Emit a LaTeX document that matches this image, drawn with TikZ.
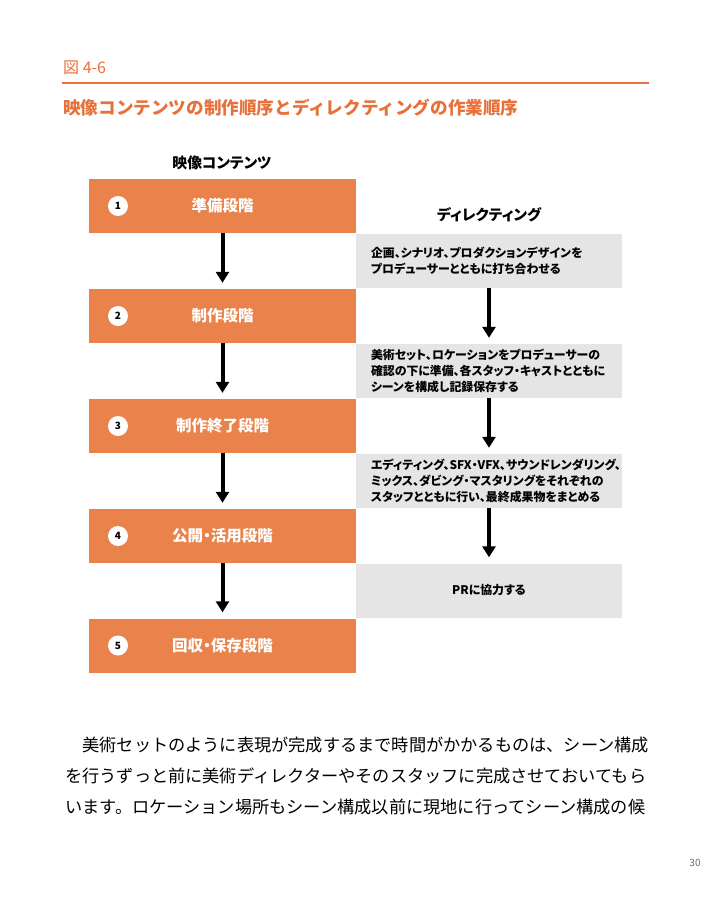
\documentclass[tikz,border=0pt]{standalone}
\usepackage{fontspec}
\setmainfont{Noto Sans CJK JP}
\newfontfamily\jp[RawFeature=+palt]{Noto Sans CJK JP}
\usetikzlibrary{arrows.meta}
\tikzset{>={Triangle[width=13pt,length=11pt]}}
\definecolor{figorange}{HTML}{E9834B}
\definecolor{headorange}{HTML}{E8713A}
\definecolor{taskgray}{HTML}{E5E5E5}

\begin{document}
\begin{tikzpicture}[x=1pt,y=-1pt]
  \tikzstyle{stage} = [fill=figorange, text=white, minimum width=267pt, minimum height=54pt, inner sep=0pt, font=\jp\bfseries\fontsize{15.5}{15.5}\selectfont]
  \tikzstyle{task} = [fill=taskgray, minimum width=266pt, minimum height=54pt, inner xsep=15pt, inner ysep=0pt, text width=236pt, align=left, font=\jp\bfseries\fontsize{11.9}{16}\selectfont]
  \tikzstyle{num} = [circle, fill=white, inner sep=0pt, minimum size=20pt, font=\jp\bfseries\fontsize{10}{10}\selectfont]
  \tikzstyle{flow} = [->, line width=4pt]
  \tikzstyle{colhead} = [font=\jp\bfseries\fontsize{14.8}{14.8}\selectfont]
  \tikzstyle{body} = [anchor=west, inner sep=0pt, font=\fontsize{17.2}{17.2}\selectfont]

  \useasboundingbox (0,0) rectangle (720,900);

  % heading
  \node[anchor=west, inner sep=0pt, text=headorange, font=\jp\fontsize{16}{16}\selectfont] (fig) at (63,68) {図 4-6};
  \draw[headorange, line width=2.5pt] (62,83) -- (649,83);
  \node[anchor=west, inner sep=0pt, text=headorange, font=\bfseries\fontsize{17.6}{17.6}\selectfont] (title) at (63,108) {映像コンテンツの制作順序とディレクティングの作業順序};

  % column heads
  \node[colhead] (colL) at (222,163) {映像コンテンツ};
  \node[colhead] (colR) at (489,215) {ディレクティング};

  % production stages
  \node[stage] (s1) at (222.5,206) {準備段階};
  \node[stage] (s2) at (222.5,316) {制作段階};
  \node[stage] (s3) at (222.5,426) {制作終了段階};
  \node[stage] (s4) at (222.5,536) {公開・活用段階};
  \node[stage] (s5) at (222.5,645.5) {回収・保存段階};

  \foreach \i in {1,...,5}
    \node[num] (n\i) at (118,0 |- s\i) {\i};

  % directing tasks
  \node[task] (d1) at (489,261) {企画、シナリオ、プロダクションデザインを\\プロデューサーとともに打ち合わせる};
  \node[task] (d2) at (489,371) {美術セット、ロケーションをプロデューサーの\\確認の下に準備、各スタッフ・キャストとともに\\シーンを構成し記録保存する};
  \node[task] (d3) at (489,481) {エディティング、SFX・VFX、サウンドレンダリング、\\ミックス、ダビング・マスタリングをそれぞれの\\スタッフとともに行い、最終成果物をまとめる};
  \node[task, align=center] (d4) at (489,590.5) {PRに協力する};

  % arrows
  \foreach \a/\b in {s1/s2,s2/s3,s3/s4,s4/s5}
    \draw[flow] (\a.south) -- ([yshift=6pt]\b.north);
  \foreach \a/\b in {d1/d2,d2/d3,d3/d4}
    \draw[flow] (\a.south) -- ([yshift=6pt]\b.north);

  % body text
  \node[body] (t1) at (65,745) {　美術セットのように表現が完成するまで時間がかかるものは、シーン構成};
  \node[body] (t2) at (65,776) {を行うずっと前に美術ディレクターやそのスタッフに完成させておいてもら};
  \node[body] (t3) at (65,807) {います。ロケーション場所もシーン構成以前に現地に行ってシーン構成の候};

  \node[text=black!60, font=\fontsize{10}{10}\selectfont] (page) at (695,863) {30};
\end{tikzpicture}
\end{document}
